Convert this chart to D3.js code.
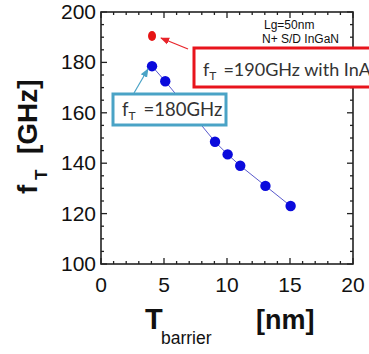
<!DOCTYPE html>
<html><head><meta charset="utf-8">
<script src="https://cdn.jsdelivr.net/npm/d3@7"></script>
<style>body{margin:0;background:#fff;}svg{display:block;}</style>
</head><body>
<svg id="c" width="369" height="354"></svg>
<script>
const barrierNm = [4.05, 5.1, 9.05, 10.05, 11.05, 13.05, 15.05];
const fT_GHz = [178.5, 172.5, 148.5, 143.5, 139, 131, 123];
const inAlN_x = [4.05];
const inAlN_fT = [190.5];
const xTicks = [0, 5, 10, 15, 20];
const yTicks = [100, 120, 140, 160, 180, 200];

const svg = d3.select("#c");
const L = 101, R = 353, T = 12, B = 264;
const x = d3.scaleLinear().domain([0, 20]).range([L, R]);
const y = d3.scaleLinear().domain([100, 200]).range([B, T]);

function axes() {
  const g = svg.append("g").attr("stroke", "#222").attr("stroke-width", 1.3);
  d3.range(0, 21, 1).forEach(v => {
    const len = v % 5 === 0 ? 6 : 3;
    g.append("line").attr("x1", x(v)).attr("x2", x(v)).attr("y1", B).attr("y2", B - len);
    g.append("line").attr("x1", x(v)).attr("x2", x(v)).attr("y1", T).attr("y2", T + len);
  });
  d3.range(100, 201, 5).forEach(v => {
    const len = v % 20 === 0 ? 6 : 3;
    g.append("line").attr("y1", y(v)).attr("y2", y(v)).attr("x1", L).attr("x2", L + len);
    g.append("line").attr("y1", y(v)).attr("y2", y(v)).attr("x1", R).attr("x2", R - len);
  });
  svg.append("rect").attr("x", L).attr("y", T).attr("width", R - L).attr("height", B - T)
    .attr("fill", "none").attr("stroke", "#222").attr("stroke-width", 1.6);
}
axes();

const tickFont = "Arial, 'Liberation Sans', sans-serif";
svg.append("g").selectAll("text").data(xTicks).join("text")
  .attr("x", d => x(d)).attr("y", 292).attr("text-anchor", "middle")
  .attr("font-family", tickFont).attr("font-size", 21).attr("fill", "#111").text(d => d);
svg.append("g").selectAll("text").data(yTicks).join("text")
  .attr("x", 96).attr("y", d => y(d) + 7).attr("text-anchor", "end")
  .attr("font-family", tickFont).attr("font-size", 21).attr("fill", "#111").text(d => d);

svg.append("path").datum(barrierNm.map((v, i) => [v, fT_GHz[i]]))
  .attr("d", d3.line().x(d => x(d[0])).y(d => y(d[1])))
  .attr("fill", "none").attr("stroke", "#5a5acc").attr("stroke-width", 1);
svg.append("g").selectAll("circle").data(barrierNm.map((v, i) => [v, fT_GHz[i]])).join("circle")
  .attr("cx", d => x(d[0])).attr("cy", d => y(d[1])).attr("r", 5.2).attr("fill", "#0a0adc");
svg.append("g").selectAll("ellipse").data(inAlN_x.map((v, i) => [v, inAlN_fT[i]])).join("ellipse")
  .attr("cx", d => x(d[0])).attr("cy", d => y(d[1])).attr("rx", 4).attr("ry", 5).attr("fill", "#e61414");

const note = svg.append("g").attr("font-family", tickFont).attr("font-size", 12).attr("fill", "#111");
note.append("text").attr("x", 264).attr("y", 29).text("Lg=50nm");
note.append("text").attr("x", 262).attr("y", 43).text("N+ S/D InGaN");

const defs = svg.append("defs");
function marker(id, col) {
  defs.append("marker").attr("id", id).attr("viewBox", "0 0 10 10").attr("refX", 9).attr("refY", 5)
    .attr("markerWidth", 9).attr("markerHeight", 9).attr("markerUnits", "userSpaceOnUse").attr("orient", "auto")
    .append("path").attr("d", "M0,1 L10,5 L0,9 Z").attr("fill", col);
}
marker("ar", "#e8242a");
marker("ab", "#4aa3c6");
svg.append("line").attr("x1", 188).attr("y1", 49).attr("x2", 161).attr("y2", 38)
  .attr("stroke", "#e8242a").attr("stroke-width", 1.2).attr("marker-end", "url(#ar)");
svg.append("line").attr("x1", 134).attr("y1", 93).attr("x2", 148).attr("y2", 69)
  .attr("stroke", "#4aa3c6").attr("stroke-width", 1.2).attr("marker-end", "url(#ab)");

const calloutFont = "Lato, 'Open Sans', sans-serif";
svg.append("rect").attr("x", 194).attr("y", 48).attr("width", 200).attr("height", 39)
  .attr("fill", "#fff").attr("stroke", "#e8141c").attr("stroke-width", 3);
const t1 = svg.append("text").attr("x", 203).attr("y", 76).attr("font-family", calloutFont)
  .attr("font-size", 18).attr("fill", "#333");
t1.append("tspan").text("f");
t1.append("tspan").attr("font-size", 12).attr("dy", 4).text("T");
t1.append("tspan").attr("dy", -4).attr("dx", 7).text("=190GHz with InAlN");

svg.append("rect").attr("x", 113).attr("y", 94).attr("width", 113).attr("height", 31)
  .attr("fill", "#fff").attr("stroke", "#4aa3c6").attr("stroke-width", 3);
const t2 = svg.append("text").attr("x", 122).attr("y", 116).attr("font-family", calloutFont)
  .attr("font-size", 18.5).attr("fill", "#333");
t2.append("tspan").text("f");
t2.append("tspan").attr("font-size", 12).attr("dy", 4).text("T");
t2.append("tspan").attr("dy", -4).attr("dx", 8).text("=180GHz");

const bold = "Arial, 'Liberation Sans', sans-serif";
svg.append("text").attr("x", 145).attr("y", 329).attr("font-family", bold).attr("font-weight", "bold")
  .attr("font-size", 29).attr("fill", "#111").text("T");
svg.append("text").attr("x", 161).attr("y", 344).attr("font-family", bold)
  .attr("font-size", 17.5).attr("fill", "#111").text("barrier");
svg.append("text").attr("x", 256).attr("y", 329).attr("font-family", bold).attr("font-weight", "bold")
  .attr("font-size", 27).attr("fill", "#111").text("[nm]");

const yl = svg.append("g").attr("transform", "translate(37,194) rotate(-90)");
yl.append("text").attr("x", 0).attr("y", 0).attr("font-family", bold).attr("font-weight", "bold")
  .attr("font-size", 28).attr("fill", "#111").text("f");
yl.append("text").attr("x", 14).attr("y", 10).attr("font-family", bold).attr("font-weight", "bold")
  .attr("font-size", 17).attr("fill", "#111").text("T");
yl.append("text").attr("x", 40).attr("y", 0).attr("font-family", bold).attr("font-weight", "bold")
  .attr("font-size", 28).attr("fill", "#111").text("[GHz]");
</script>
</body></html>
